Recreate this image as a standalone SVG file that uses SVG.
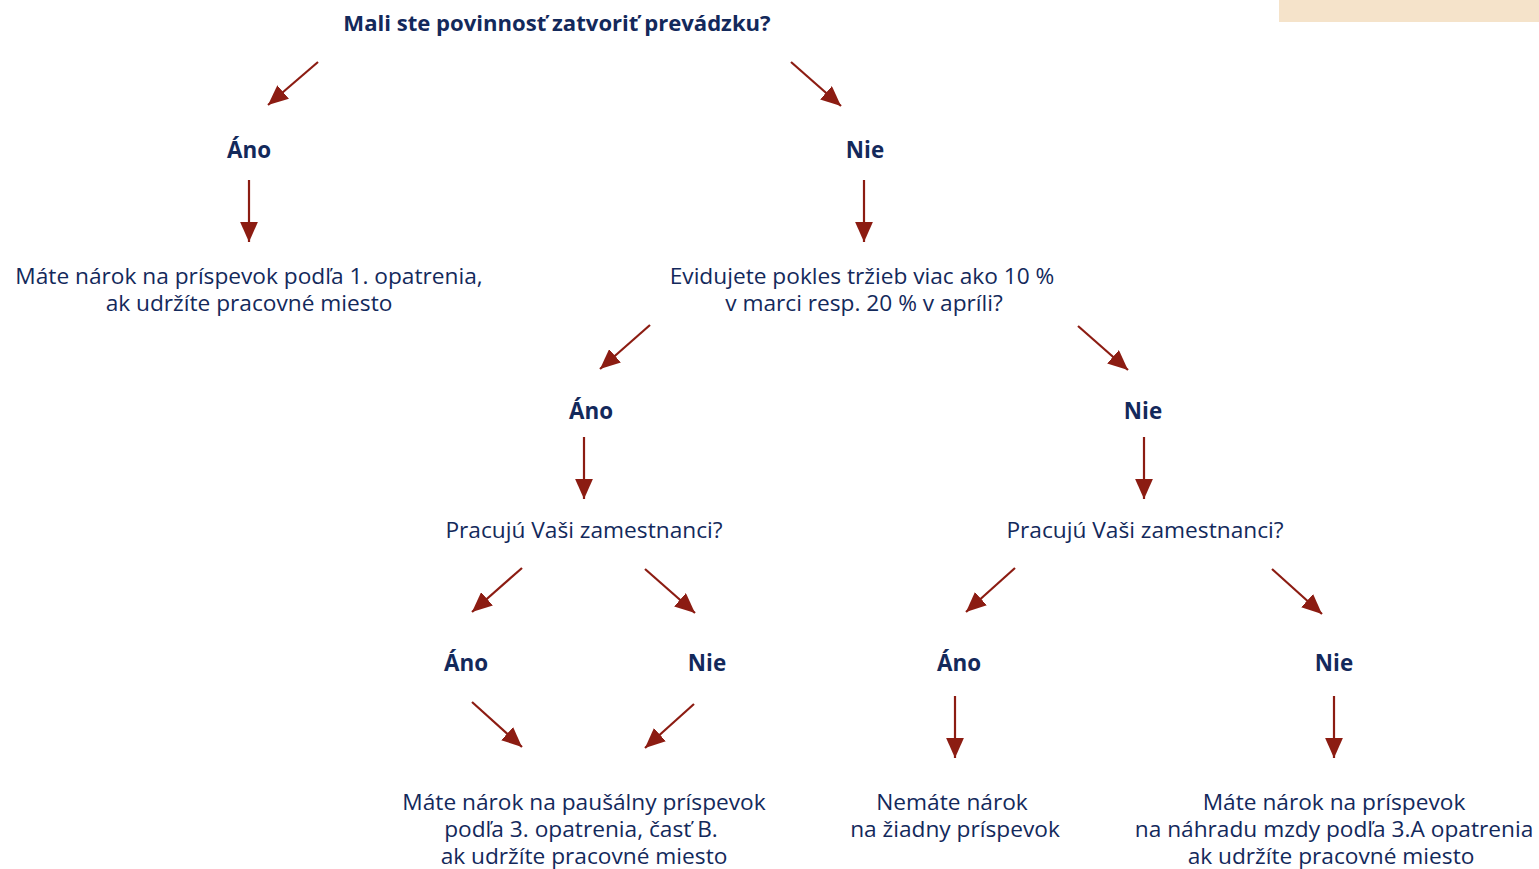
<svg xmlns="http://www.w3.org/2000/svg" width="1539" height="869" viewBox="0 0 1539 869">
<style>
.t{font-family:"Open Sans",Lato,sans-serif;fill:#13295b;text-anchor:middle;font-size:22.7px}
.b{font-weight:bold;font-size:22.4px}
.h{font-weight:bold;font-size:22.1px}
.c line{stroke:#8c1c12;stroke-width:2.2}
</style>
<defs>
<marker id="ah" markerUnits="userSpaceOnUse" markerWidth="20" markerHeight="18" refX="18" refY="8" orient="auto" viewBox="0 0 18 16">
<path d="M0,0 L18,8 L0,16 Z" fill="#8c1c12"/>
</marker>
</defs>
<rect x="1279" y="0" width="260" height="22" fill="#f5e3ca"/>
<g class="c">
<line x1="318" y1="62" x2="268" y2="105" marker-end="url(#ah)"/>
<line x1="791" y1="62" x2="841" y2="106" marker-end="url(#ah)"/>
<line x1="249" y1="180" x2="249" y2="242" marker-end="url(#ah)"/>
<line x1="864" y1="180" x2="864" y2="242" marker-end="url(#ah)"/>
<line x1="650" y1="325" x2="600" y2="369" marker-end="url(#ah)"/>
<line x1="1078" y1="326" x2="1128" y2="370" marker-end="url(#ah)"/>
<line x1="584" y1="437" x2="584" y2="499" marker-end="url(#ah)"/>
<line x1="1144" y1="437" x2="1144" y2="499" marker-end="url(#ah)"/>
<line x1="522" y1="568" x2="472" y2="612" marker-end="url(#ah)"/>
<line x1="645" y1="569" x2="695" y2="613" marker-end="url(#ah)"/>
<line x1="1015" y1="568" x2="966" y2="612" marker-end="url(#ah)"/>
<line x1="1272" y1="569" x2="1322" y2="614" marker-end="url(#ah)"/>
<line x1="472" y1="702" x2="522" y2="747" marker-end="url(#ah)"/>
<line x1="694" y1="704" x2="645" y2="748" marker-end="url(#ah)"/>
<line x1="955" y1="696" x2="955" y2="758" marker-end="url(#ah)"/>
<line x1="1334" y1="696" x2="1334" y2="758" marker-end="url(#ah)"/>
</g>
<g id="q1"><text class="t h" x="557" y="31">Mali ste povinnosť zatvoriť prevádzku?</text></g>
<g id="a1"><text class="t b" x="249" y="158">Áno</text></g>
<g id="n1"><text class="t b" x="865" y="158">Nie</text></g>
<g id="r1"><text class="t" x="249" y="284">Máte nárok na príspevok podľa 1. opatrenia,<tspan x="249" dy="27">ak udržíte pracovné miesto</tspan></text></g>
<g id="q2"><text class="t" x="862" y="284">Evidujete pokles tržieb viac ako 10 %<tspan x="864" dy="27">v marci resp. 20 % v apríli?</tspan></text></g>
<g id="a2"><text class="t b" x="591" y="419">Áno</text></g>
<g id="n2"><text class="t b" x="1143" y="419">Nie</text></g>
<g id="q3"><text class="t" x="584" y="538">Pracujú Vaši zamestnanci?</text></g>
<g id="q4"><text class="t" x="1145" y="538">Pracujú Vaši zamestnanci?</text></g>
<g id="a3"><text class="t b" x="466" y="671">Áno</text></g>
<g id="n3"><text class="t b" x="707" y="671">Nie</text></g>
<g id="a4"><text class="t b" x="959" y="671">Áno</text></g>
<g id="n4"><text class="t b" x="1334" y="671">Nie</text></g>
<g id="r2"><text class="t" x="584" y="810">Máte nárok na paušálny príspevok<tspan x="581" dy="27">podľa 3. opatrenia, časť B.</tspan><tspan x="584" dy="27">ak udržíte pracovné miesto</tspan></text></g>
<g id="r3"><text class="t" x="952" y="810">Nemáte nárok<tspan x="955" dy="27">na žiadny príspevok</tspan></text></g>
<g id="r4"><text class="t" x="1334" y="810">Máte nárok na príspevok<tspan x="1334" dy="27">na náhradu mzdy podľa 3.A opatrenia</tspan><tspan x="1331" dy="27">ak udržíte pracovné miesto</tspan></text></g>
</svg>
